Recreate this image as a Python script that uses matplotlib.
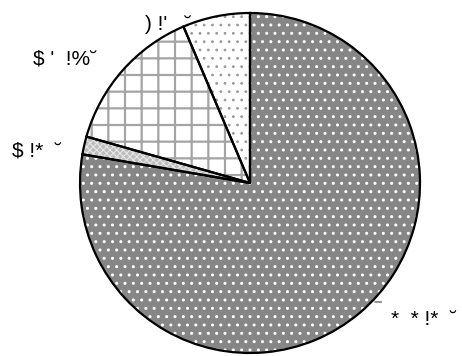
import matplotlib
matplotlib.use('Agg')
import matplotlib.pyplot as plt

# slice shares (clockwise from 12 o'clock) and their labels as printed
values = [77.7, 1.7, 14.2, 6.4]
labels = ['*  * !*  ˘', '$ !*  ˘', "$ '  !%˘", ") !'   ˘"]

faces = ['#868686', '#bdbdbd', '#ffffff', '#ffffff']
hatch_colors = ['#ffffff', '#e6e6e6', '#a4a4a4', '#9a9a9a']
hatches = ['..', 'xxxxx', '+', '..']
hatch_widths = [1.0, 0.8, 1.6, 0.8]

# label anchor points (left, baseline), in pie units
label_pos = [(0.83, -0.835), (-1.40, 0.153), (-1.276, 0.70), (-0.618, 0.90)]

plt.rcParams['font.family'] = ['Liberation Sans', 'DejaVu Sans']
plt.rcParams['hatch.linewidth'] = 1.0

fig = plt.figure(figsize=(4.62, 3.56), dpi=100)
ax = fig.add_axes([0, 0, 1, 1])

wedges, _ = ax.pie(values, startangle=90, counterclock=False, radius=1.0)
for w, fc, hc, h, hw in zip(wedges, faces, hatch_colors, hatches, hatch_widths):
    w.set_facecolor(fc)
    w.set_edgecolor(hc)
    w.set_hatch(h)
    w.set_linewidth(0)
    if hasattr(w, 'set_hatch_linewidth'):
        w.set_hatch_linewidth(hw)

# black outlines on top
ax.pie(values, startangle=90, counterclock=False, radius=1.0,
       wedgeprops=dict(fill=False, edgecolor='black', linewidth=1.6))

for lab, (x, y) in zip(labels, label_pos):
    ax.text(x, y, lab, ha='left', va='baseline', fontsize=15, color='black')

# leader line for the large slice
ax.annotate('', xy=(0.718, -0.70), xytext=(0.79, -0.70),
            arrowprops=dict(arrowstyle='-', color='#404040', lw=0.8))

ax.set_aspect('auto')
ax.set_xlim(-250 / 170, 212 / 170)
ax.set_ylim(-173 / 170, 183 / 170)
ax.axis('off')

fig.savefig('out.png', dpi=100)
